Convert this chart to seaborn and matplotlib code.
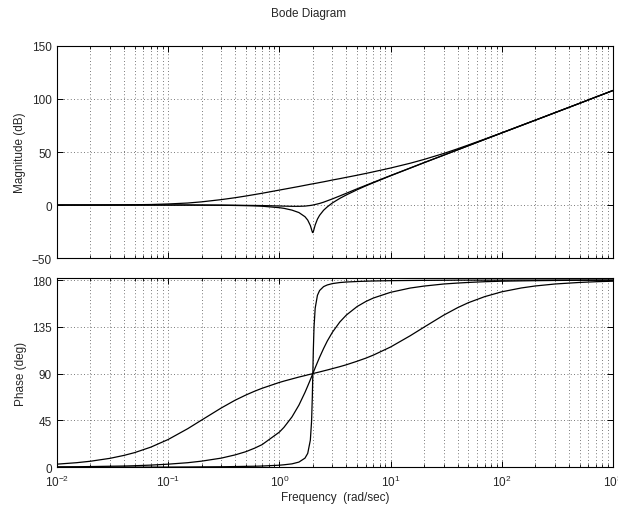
import numpy as np
import pandas as pd
import matplotlib
matplotlib.use('Agg')
import matplotlib.pyplot as plt
import matplotlib.ticker as mticker
import seaborn as sns

# frequency points (rad/sec), shared by all three curves
freq = [0.01, 0.015, 0.02, 0.03, 0.04, 0.05, 0.07, 0.1, 0.15, 0.2, 0.3, 0.4, 0.5, 0.6, 0.7, 1.0, 1.1, 1.3,
        1.5, 1.7, 1.8, 1.9, 1.95, 1.98, 2.0, 2.02, 2.05, 2.1, 2.2, 2.3, 2.5, 2.7, 3, 3.5, 4, 5, 6, 7, 10, 15,
        20, 30, 40, 50, 70, 100, 150, 200, 300, 500, 700, 1000]

# magnitude (dB)
mag_wide = [0.0, 0.0, 0.0, 0.1, 0.2, 0.3, 0.5, 1.0, 1.9, 3.0, 5.1, 6.9, 8.5, 9.9, 11.1, 14.1, 14.9, 16.3,
            17.5, 18.6, 19.1, 19.6, 19.8, 19.9, 20.0, 20.1, 20.2, 20.4, 20.8, 21.2, 21.9, 22.6, 23.6, 24.9,
            26.1, 28.1, 29.8, 31.3, 34.9, 39.4, 43.0, 48.6, 53.0, 56.6, 62.1, 68.1, 75.1, 80.0, 87.1, 95.9,
            101.8, 108.0]
mag_mid = [0.0, 0.0, 0.0, 0.0, 0.0, 0.0, 0.0, 0.0, 0.0, 0.0, -0.1, -0.2, -0.3, -0.4, -0.5, -0.9, -1.0, -1.2,
           -1.2, -1.0, -0.7, -0.4, -0.2, -0.1, 0.0, 0.1, 0.2, 0.5, 1.0, 1.5, 2.7, 4.0, 5.8, 8.6, 11.1, 15.3,
           18.6, 21.4, 27.8, 34.9, 40.0, 47.0, 52.0, 55.9, 61.8, 68.0, 75.0, 80.0, 87.0, 95.9, 101.8, 108.0]
mag_notch = [0.0, 0.0, 0.0, 0.0, 0.0, 0.0, 0.0, 0.0, 0.0, -0.1, -0.2, -0.4, -0.6, -0.8, -1.1, -2.5, -3.1,
             -4.8, -7.1, -11.0, -14.2, -19.3, -23.2, -25.5, -26.0, -25.3, -22.8, -18.8, -13.3, -9.7, -4.9,
             -1.7, 2.0, 6.3, 9.5, 14.4, 18.1, 21.0, 27.6, 34.8, 39.9, 47.0, 52.0, 55.9, 61.8, 68.0, 75.0,
             80.0, 87.0, 95.9, 101.8, 108.0]

# phase (deg)
ph_wide = [2.9, 4.3, 5.7, 8.5, 11.3, 14.0, 19.3, 26.6, 37.0, 45.3, 56.9, 64.4, 69.4, 73.1, 75.9, 81.5, 82.8,
           84.9, 86.7, 88.1, 88.8, 89.4, 89.7, 89.9, 90.0, 90.1, 90.3, 90.6, 91.1, 91.6, 92.6, 93.5, 94.8,
           96.7, 98.5, 101.9, 104.9, 107.8, 115.6, 126.4, 134.7, 146.2, 153.4, 158.2, 164.0, 168.7, 172.4,
           174.3, 176.2, 177.7, 178.4, 178.9]
ph_mid = [0.3, 0.4, 0.6, 0.9, 1.1, 1.4, 2.0, 2.9, 4.3, 5.8, 8.7, 11.8, 14.9, 18.3, 21.7, 33.7, 38.3, 48.4,
          59.7, 71.9, 78.1, 84.1, 87.1, 88.8, 90.0, 91.1, 92.8, 95.6, 100.8, 105.7, 114.2, 121.4, 129.8,
          139.7, 146.3, 154.5, 159.4, 162.7, 168.2, 172.3, 174.2, 176.2, 177.1, 177.7, 178.4, 178.9, 179.2,
          179.4, 179.6, 179.8, 179.8, 179.9]
ph_notch = [0.0, 0.0, 0.0, 0.0, 0.1, 0.1, 0.1, 0.1, 0.2, 0.3, 0.4, 0.6, 0.8, 0.9, 1.1, 1.9, 2.3, 3.2, 4.9,
            8.7, 13.3, 26.0, 44.6, 68.1, 90.0, 111.7, 134.6, 152.9, 165.3, 169.9, 173.7, 175.3, 176.6, 177.6,
            178.1, 178.6, 178.9, 179.1, 179.4, 179.6, 179.7, 179.8, 179.9, 179.9, 179.9, 179.9, 180.0, 180.0,
            180.0, 180.0, 180.0, 180.0]

curves = ['wide', 'mid', 'notch']
df = pd.concat([
    pd.DataFrame({'freq': freq, 'mag': m, 'phase': p, 'curve': c})
    for c, m, p in zip(curves, [mag_wide, mag_mid, mag_notch], [ph_wide, ph_mid, ph_notch])
])

sns.set_style('ticks')
plt.rcParams['font.family'] = ['Liberation Sans', 'DejaVu Sans']
plt.rcParams['mathtext.default'] = 'regular'
plt.rcParams['font.size'] = 8.5
plt.rcParams['xtick.direction'] = 'in'
plt.rcParams['ytick.direction'] = 'in'

fig = plt.figure(figsize=(6.18, 5.10), dpi=100)
ax1 = fig.add_axes([0.092, 0.492, 0.9, 0.416])
ax2 = fig.add_axes([0.092, 0.082, 0.9, 0.371])

for ax, col in [(ax1, 'mag'), (ax2, 'phase')]:
    for c in curves:
        sns.lineplot(data=df[df['curve'] == c], x='freq', y=col, color='black', linewidth=0.9,
                     sort=False, estimator=None, ax=ax)
    ax.set_xscale('log')
    ax.set_xlim(1e-2, 1e3)
    ax.xaxis.set_major_locator(mticker.LogLocator(base=10, numticks=10))
    ax.xaxis.set_minor_locator(mticker.LogLocator(base=10, subs=np.arange(2, 10), numticks=20))
    ax.grid(True, which='major', axis='both', color='0.3', linestyle=(0, (1, 3)), linewidth=0.6)
    ax.grid(True, which='minor', axis='x', color='0.3', linestyle=(0, (1, 3)), linewidth=0.6)
    ax.tick_params(which='both', top=True, right=True, color='black', labelsize=8.5)
    ax.tick_params(which='major', length=4, width=0.7)
    ax.tick_params(which='minor', length=2, width=0.6)
    ax.tick_params(axis='x', which='major', pad=5)
    for s in ax.spines.values():
        s.set_color('black')
        s.set_linewidth(0.8)
    ax.set_facecolor('white')

ax1.set_ylim(-50, 150)
ax1.set_yticks([-50, 0, 50, 100, 150])
ax1.set_ylabel('Magnitude (dB)', fontsize=8.5)
ax1.set_xlabel('')
ax1.tick_params(labelbottom=False)

ax2.set_ylim(0, 182)
ax2.set_yticks([0, 45, 90, 135, 180])
ax2.set_ylabel('Phase (deg)', fontsize=8.5)
ax2.set_xlabel('Frequency  (rad/sec)', fontsize=8.5, labelpad=1)

fig.text(0.5, 0.972, 'Bode Diagram', ha='center', va='center', fontsize=8.5)

fig.savefig('out.png', dpi=100)
